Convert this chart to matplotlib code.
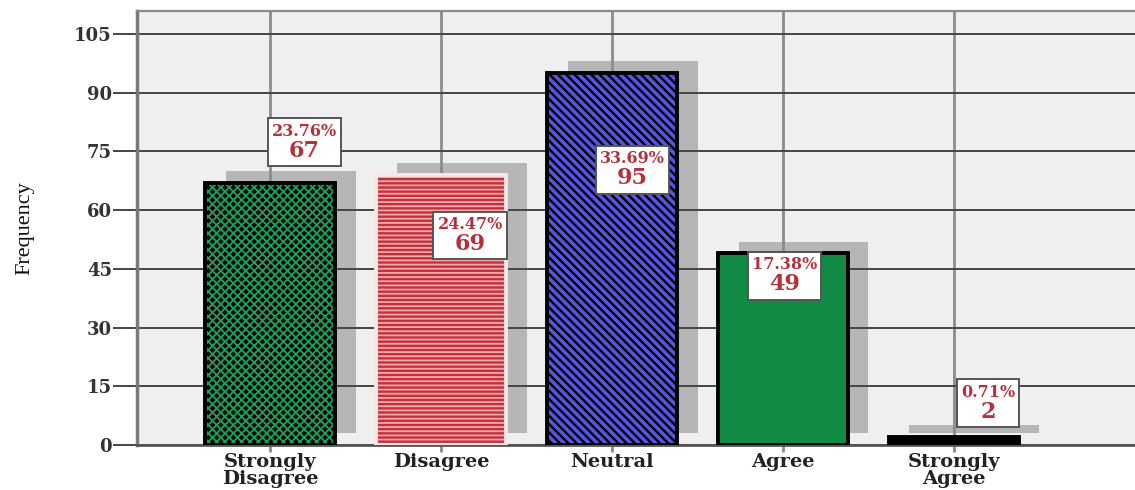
import numpy as np
import matplotlib.pyplot as plt
from matplotlib.offsetbox import TextArea, VPacker, AnnotationBbox

# survey answers
categories = ["Strongly\nDisagree", "Disagree", "Neutral", "Agree", "Strongly\nAgree"]
counts = [67, 69, 95, 49, 2]
yticks = [0, 15, 30, 45, 60, 75, 90, 105]

# value boxes: (shift from bar centre, height in data units)
label_pos = [(0.2, 77.4), (0.17, 53.6), (0.12, 70.3), (0.01, 43.2), (0.2, 10.7)]

# per-bar looks
face = ["black", "#c42f39", "#5656e6", "#118a46", "black"]
hatch_col = ["#1f9c57", "#f2a9b0", "black", None, None]
hatches = ["xxxx", "----", "\\\\\\\\", None, None]
edge = ["black", "#f6e8e8", "black", "black", "black"]
hatch_lw = [1.4, 1.3, 1.7, 1.0, 1.0]

serif = ["DejaVu Serif"]
red_txt = "#b3313b"

fig = plt.figure(figsize=(11.35, 4.9), dpi=100)
ax = fig.add_axes([137 / 1135, 45 / 490, 1.006 - 137 / 1135, (445 - 11) / 490])
ax.set_facecolor("#efefef")

x = np.arange(len(counts))
width = 0.76
total = sum(counts)

# drop shadows behind the bars
ax.bar(x + 0.12, counts, width, bottom=3, color="#b6b6b6", zorder=1)

# grid: horizontal lines at the ticks, vertical lines through the categories
for t in yticks:
    ax.axhline(t, color="#454545", lw=1.4, zorder=2)
for xi in x:
    ax.axvline(xi, color="#8c8c8c", lw=2.0, zorder=1.5)

for i, c in enumerate(counts):
    with plt.rc_context({"hatch.linewidth": hatch_lw[i]}):
        if hatches[i]:
            ax.bar(x[i], c, width, facecolor=face[i], edgecolor=hatch_col[i],
                   hatch=hatches[i], linewidth=0, zorder=3)
            ax.bar(x[i], c, width, fill=False, edgecolor=edge[i],
                   linewidth=2.8, zorder=3.2)
        else:
            ax.bar(x[i], c, width, facecolor=face[i], edgecolor=edge[i],
                   linewidth=2.8, zorder=3)

# value boxes with percentage and count
for i, c in enumerate(counts):
    dx, yy = label_pos[i]
    pct = TextArea(f"{c / total * 100:.2f}%",
                   textprops=dict(color=red_txt, fontsize=11.5, fontweight="bold",
                                  family=serif))
    num = TextArea(f"{c}",
                   textprops=dict(color=red_txt, fontsize=16, fontweight="bold",
                                  family=serif))
    pack = VPacker(children=[pct, num], align="center", pad=0, sep=0)
    ab = AnnotationBbox(pack, (x[i] + dx, yy), xycoords="data", frameon=True,
                        pad=0.45, zorder=6,
                        bboxprops=dict(boxstyle="square", facecolor="white",
                                       edgecolor="#555555", linewidth=1.4))
    ax.add_artist(ab)

ax.set_xlim(-0.78, 5.1)
ax.set_ylim(0, 110.9)
ax.set_yticks(yticks)
ax.set_yticklabels([str(t) for t in yticks], family=serif, fontsize=13,
                   fontweight="bold", color="#333333")
ax.set_xticks(x)
ax.set_xticklabels(categories, family=serif, fontsize=14, fontweight="bold",
                   color="#222222", linespacing=0.92)
ax.tick_params(axis="y", length=17, width=1.4, color="#454545", pad=1)
ax.tick_params(axis="x", length=5, width=2, color="#8c8c8c", pad=1)

ax.set_ylabel("Frequency", family=["Liberation Serif"], fontsize=16, color="#111111")
ax.yaxis.set_label_coords(-0.102, 0.5)

ax.spines["left"].set_color("#7a7a7a")
ax.spines["left"].set_linewidth(2.5)
ax.spines["top"].set_color("#8a8a8a")
ax.spines["top"].set_linewidth(1.6)
ax.spines["bottom"].set_color("#555555")
ax.spines["bottom"].set_linewidth(2)
ax.spines["right"].set_visible(False)

fig.savefig("out.png", dpi=100)
